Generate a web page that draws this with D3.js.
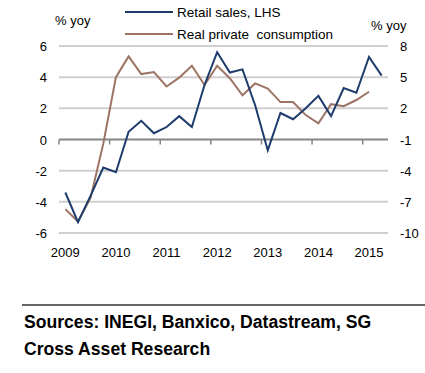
<!DOCTYPE html>
<html>
<head>
<meta charset="utf-8">
<script src="https://cdn.jsdelivr.net/npm/d3@7"></script>
<style>
  body { margin: 0; background: #fff; }
  svg { display: block; font-family: 'Liberation Sans', Arial, sans-serif; }
</style>
</head>
<body>
<div id="chart"></div>
<script>
// quarterly data, 2009Q1 .. 2015Q2
const quarters = d3.range(26).map(i => `${2009 + Math.floor(i / 4)}Q${i % 4 + 1}`);
const retailSales = [-3.4, -5.3, -3.6, -1.8, -2.1, 0.5, 1.2, 0.4, 0.8, 1.5, 0.8, 3.5, 5.6,
    4.3, 4.5, 2.2, -0.7, 1.7, 1.3, 2.0, 2.8, 1.5, 3.3, 3.0, 5.3, 4.1];
const privateConsumption = [-7.7, -8.9, -6.6, -1.4, 5.0, 7.0, 5.3, 5.5, 4.1, 4.95, 6.1, 4.25, 6.1,
    4.9, 3.25, 4.4, 3.9, 2.6, 2.6, 1.35, 0.56, 2.4, 2.2, 2.8, 3.6];
const leftTicks = [-6, -4, -2, 0, 2, 4, 6];
const rightTicks = [-10, -7, -4, -1, 2, 5, 8];
const yearLabels = ['2009', '2010', '2011', '2012', '2013', '2014', '2015'];

const blue = '#1d3c6c';
const brown = '#9d7464';

const svg = d3.select('#chart').append('svg')
    .attr('width', 425)
    .attr('height', 373);

const x = d3.scaleBand()
    .domain(quarters)
    .range([59, 388]);
const yL = d3.scaleLinear().domain([-6, 6]).range([233, 46]);
const yR = d3.scaleLinear().domain([-10, 8]).range([233, 46]);

// gridlines
svg.append('g').selectAll('line')
    .data(leftTicks.filter(d => d !== 0))
    .enter().append('line')
    .attr('x1', 59)
    .attr('x2', 388)
    .attr('y1', d => yL(d))
    .attr('y2', d => yL(d))
    .attr('stroke', '#cfcfcf')
    .attr('stroke-width', 2);

// left axis labels
svg.append('g').selectAll('text')
    .data(leftTicks)
    .enter().append('text')
    .attr('x', 47)
    .attr('y', d => yL(d) + 5)
    .attr('font-size', 13)
    .attr('text-anchor', 'end')
    .text(d => d);

// right axis labels
svg.append('g').selectAll('text')
    .data(rightTicks)
    .enter().append('text')
    .attr('x', 400)
    .attr('y', d => yR(d) + 5)
    .attr('font-size', 13)
    .text(d => d);

// units
svg.append('text').attr('x', 55).attr('y', 25).attr('font-size', 13).text('% yoy');
svg.append('text').attr('x', 371).attr('y', 30).attr('font-size', 13).text('% yoy');

// zero line with year ticks
svg.append('line')
    .attr('x1', 59).attr('x2', 388)
    .attr('y1', yL(0)).attr('y2', yL(0))
    .attr('stroke', '#858585')
    .attr('stroke-width', 2);

const yearQ = quarters.filter(q => q.endsWith('Q1'));
svg.append('g').selectAll('line')
    .data(yearQ)
    .enter().append('line')
    .attr('x1', d => x(d))
    .attr('x2', d => x(d))
    .attr('y1', yL(0))
    .attr('y2', yL(0) + 5)
    .attr('stroke', '#858585')
    .attr('stroke-width', 1.5);

svg.append('g').selectAll('text')
    .data(yearQ)
    .enter().append('text')
    .attr('x', d => x(d) + x.bandwidth() / 2)
    .attr('y', 257)
    .attr('font-size', 13)
    .attr('text-anchor', 'middle')
    .text((d, i) => yearLabels[i]);

// lines
const cx = (d, i) => x(quarters[i]) + x.bandwidth() / 2;
svg.append('path')
    .datum(privateConsumption)
    .attr('fill', 'none')
    .attr('stroke', brown)
    .attr('stroke-width', 2)
    .attr('d', d3.line().x(cx).y(d => yR(d)));

svg.append('path')
    .datum(retailSales)
    .attr('fill', 'none')
    .attr('stroke', blue)
    .attr('stroke-width', 2)
    .attr('d', d3.line().x(cx).y(d => yL(d)));

// legend
const legend = [
    {label: 'Retail sales, LHS', color: blue, y: 12},
    {label: 'Real private  consumption', color: brown, y: 34}
];
const lg = svg.append('g').selectAll('g')
    .data(legend).enter().append('g');
lg.append('line')
    .attr('x1', 125).attr('x2', 173)
    .attr('y1', d => d.y).attr('y2', d => d.y)
    .attr('stroke', d => d.color)
    .attr('stroke-width', 2);
lg.append('text')
    .attr('x', 177)
    .attr('y', d => d.y + 5)
    .attr('font-size', 13.5)
    .attr('xml:space', 'preserve')
    .text(d => d.label);

// source note
svg.append('line')
    .attr('x1', 22).attr('x2', 425)
    .attr('y1', 305).attr('y2', 305)
    .attr('stroke', '#666')
    .attr('stroke-width', 2);
svg.append('text')
    .attr('x', 24).attr('y', 328)
    .attr('font-size', 17.6).attr('font-weight', 'bold')
    .text('Sources: INEGI, Banxico, Datastream, SG');
svg.append('text')
    .attr('x', 24).attr('y', 355)
    .attr('font-size', 17.6).attr('font-weight', 'bold')
    .text('Cross Asset Research');
</script>
</body>
</html>
